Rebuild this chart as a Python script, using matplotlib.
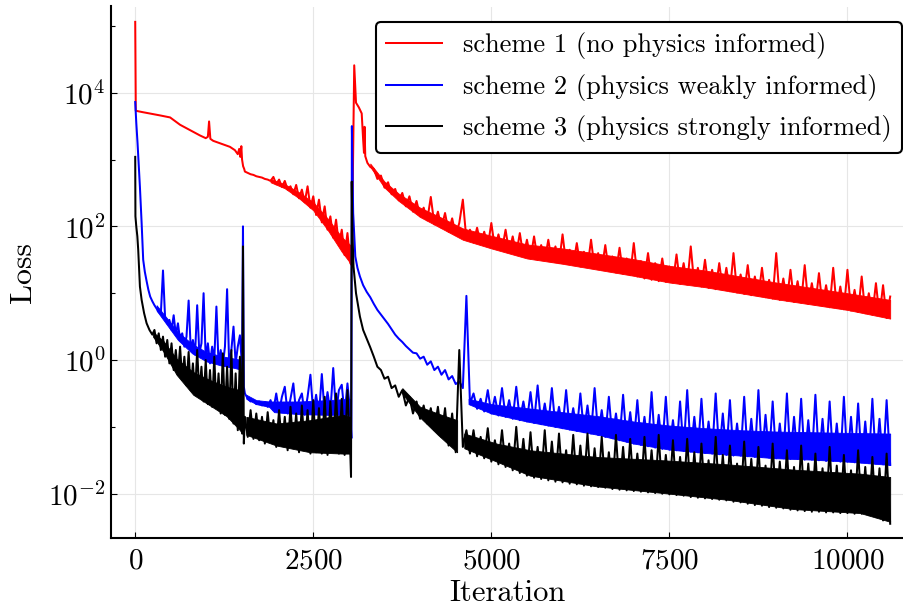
import numpy as np
import matplotlib
matplotlib.use("Agg")
import matplotlib.pyplot as plt
from matplotlib.ticker import FixedLocator, LogFormatterMathtext, NullFormatter

# ---------------- data (loss stored as log10 values) ----------------
labels = ["scheme 1 (no physics informed)",
          "scheme 2 (physics weakly informed)",
          "scheme 3 (physics strongly informed)"]
colors = ["red", "blue", "black"]

x_ticks = [0, 2500, 5000, 7500, 10000]
y_major = [1e-2, 1e0, 1e2, 1e4]
y_minor = [1e-1, 1e1, 1e3, 1e5]

# shared sampling iterations
grid_a_iter = [240, 270, 300, 330, 360, 390, 420, 450, 480, 510, 540, 570, 600, 630, 660,
               690, 720, 750, 780, 810, 840, 870, 900, 930, 960, 990, 1020, 1050, 1080,
               1110, 1140, 1170, 1200, 1230, 1260, 1290, 1320, 1350, 1380, 1410, 1440,
               1470, 1500]
grid_b_iter = [1540, 1580, 1620, 1660, 1700, 1740, 1780, 1820, 1860, 1900, 1940, 1980,
               2020, 2060, 2100, 2140, 2180, 2220, 2260, 2300, 2340, 2380, 2420, 2460,
               2500, 2540, 2580, 2620, 2660, 2700, 2740, 2780, 2820, 2860, 2900, 2940,
               2980, 3020]
grid_c_iter = [3300, 3350, 3400, 3450, 3500, 3550, 3600, 3650, 3700, 3750, 3800, 3850,
               3900, 3950, 4000, 4050, 4100, 4150, 4200, 4250, 4300, 4350, 4400, 4450,
               4500, 4550, 4600, 4650, 4700, 4750, 4800, 4850, 4900, 4950, 5000, 5050,
               5100, 5150, 5200, 5250, 5300, 5350, 5400, 5450, 5500, 5550, 5600, 5650,
               5700, 5750, 5800, 5850, 5900, 5950, 6000, 6050, 6100, 6150, 6200, 6250,
               6300, 6350, 6400, 6450, 6500, 6550, 6600, 6650, 6700, 6750, 6800, 6850,
               6900, 6950, 7000, 7050, 7100, 7150, 7200, 7250, 7300, 7350, 7400, 7450,
               7500, 7550, 7600, 7650, 7700, 7750, 7800, 7850, 7900, 7950, 8000, 8050,
               8100, 8150, 8200, 8250, 8300, 8350, 8400, 8450, 8500, 8550, 8600, 8650,
               8700, 8750, 8800, 8850, 8900, 8950, 9000, 9050, 9100, 9150, 9200, 9250,
               9300, 9350, 9400, 9450, 9500, 9550, 9600, 9650, 9700, 9750, 9800, 9850,
               9900, 9950, 10000, 10050, 10100, 10150, 10200, 10250, 10300, 10350,
               10400, 10450, 10500, 10550, 10600]

# ----- scheme 1 (red) -----
red_head_iter = [0, 8, 100, 200, 350, 490, 630, 770, 910, 990, 1020, 1037, 1055, 1095,
                 1200, 1330, 1400, 1440, 1460, 1475, 1490, 1500, 1515, 1530]
red_head_log = [5.06, 3.73, 3.71, 3.69, 3.66, 3.63, 3.52, 3.44, 3.36, 3.32, 3.34, 3.57,
                3.31, 3.28, 3.24, 3.19, 3.14, 3.08, 3.16, 3.04, 3.20, 3.00, 2.90, 2.86]
red_mid_log = [2.82, 2.80, 2.78, 2.77, 2.75, 2.74, 2.73, 2.71, 2.70, 2.68, 2.74, 2.63,
               2.70, 2.59, 2.68, 2.55, 2.60, 2.48, 2.62, 2.42, 2.55, 2.36, 2.60, 2.28,
               2.45, 2.17, 2.40, 2.06, 2.30, 1.95, 2.15, 1.83, 2.10, 1.72, 1.95, 1.57,
               1.90, 1.45]
red_restart_iter = [3040, 3075, 3100, 3140, 3180, 3200, 3212, 3220, 3230, 3260]
red_restart_log = [1.42, 4.41, 3.85, 3.78, 3.69, 3.30, 3.10, 3.49, 3.05, 2.95]
red_tail_log = [2.89, 2.86, 2.71, 2.76, 2.58, 2.66, 2.48, 2.56, 2.39, 2.50, 2.30, 2.45,
                2.22, 2.38, 2.15, 2.28, 2.09, 2.44, 2.03, 2.22, 1.98, 2.20, 1.92, 2.12,
                1.87, 2.05, 2.40, 1.80, 1.95, 1.76, 1.98, 1.73, 1.92, 1.70, 2.05, 1.67,
                1.88, 1.65, 1.95, 1.61, 1.85, 1.58, 1.90, 1.55, 1.80, 1.52, 1.85, 1.50,
                1.72, 1.49, 1.80, 1.47, 1.70, 1.45, 1.88, 1.44, 1.65, 1.42, 1.75, 1.40,
                1.62, 1.39, 1.80, 1.37, 1.60, 1.35, 1.72, 1.33, 1.55, 1.31, 1.68, 1.29,
                1.52, 1.27, 1.75, 1.25, 1.48, 1.22, 1.60, 1.20, 1.45, 1.18, 1.52, 1.17,
                1.40, 1.16, 1.58, 1.14, 1.45, 1.13, 1.70, 1.12, 1.38, 1.10, 1.50, 1.08,
                1.35, 1.06, 1.45, 1.05, 1.38, 1.03, 1.60, 1.01, 1.28, 0.99, 1.42, 0.97,
                1.25, 0.96, 1.38, 0.94, 1.20, 0.92, 1.60, 0.90, 1.22, 0.89, 1.35, 0.87,
                1.18, 0.86, 1.42, 0.84, 1.15, 0.83, 1.30, 0.81, 1.12, 0.79, 1.38, 0.78,
                1.10, 0.76, 1.35, 0.74, 1.05, 0.72, 1.25, 0.70, 1.00, 0.68, 1.15, 0.66,
                1.12, 0.63, 0.95]
# dense part of the noise (lower / upper edge of the solid band)
red_band_iter = [[1900, 2100, 2300, 2500, 2700, 2900, 3020],
                 [3300, 3500, 3700, 4000, 4300, 4600, 5000, 5500, 6000, 6500, 7000,
                  7500, 8000, 8500, 9000, 9500, 10000, 10600]]
red_band_lo = [[2.66, 2.57, 2.42, 2.24, 1.95, 1.62, 1.45],
               [2.89, 2.58, 2.38, 2.14, 1.97, 1.80, 1.67, 1.52, 1.44, 1.35, 1.26,
                1.16, 1.09, 1.00, 0.91, 0.83, 0.75, 0.62]]
red_band_hi = [[2.71, 2.63, 2.51, 2.36, 2.12, 1.84, 1.72],
               [2.94, 2.67, 2.49, 2.28, 2.13, 1.97, 1.86, 1.73, 1.67, 1.59, 1.51,
                1.41, 1.34, 1.25, 1.16, 1.08, 1.00, 0.90]]

# ----- scheme 2 (blue) -----
blue_head_iter = [0, 15, 33, 50, 66, 90, 112, 135, 160, 185, 210]
blue_head_log = [3.86, 3.55, 3.24, 2.90, 2.59, 2.05, 1.50, 1.32, 1.18, 1.05, 0.95]
blue_early_log = [0.88, 0.82, 0.77, 0.72, 0.70, 1.34, 0.62, 0.55, 0.60, 0.45, 0.67, 0.38,
                  0.55, 0.30, 0.40, 0.20, 0.35, 0.89, 0.15, 0.30, 0.08, 0.82, 0.10, 0.25,
                  1.00, 0.02, 0.25, -0.05, 0.20, 0.00, 0.80, -0.05, 0.15, -0.08, 0.20,
                  1.06, -0.10, 0.15, 0.50, -0.05, 0.20, 0.37, -0.10]
blue_spike_iter = [1513, 1525]
blue_spike_log = [2.00, -0.40]
blue_mid_log = [-0.50, -0.58, -0.62, -0.60, -0.66, -0.62, -0.68, -0.63, -0.70, -0.60,
                -0.75, -0.50, -0.78, -0.55, -0.40, -0.80, -0.58, -0.35, -0.80, -0.60,
                -0.50, -0.82, -0.55, -0.22, -0.80, -0.52, -0.82, -0.21, -0.80, -0.48,
                -0.78, -0.12, -0.80, -0.45, -0.37, -0.82, -0.35, -0.80]
blue_restart_iter = [3035, 3042, 3060, 3090, 3120, 3155, 3200, 3250]
blue_restart_log = [-1.17, 3.50, 2.20, 1.55, 1.38, 1.25, 1.12, 1.02]
blue_tail_log = [0.94, 0.84, 0.75, 0.68, 0.61, 0.54, 0.46, 0.38, 0.32, 0.27, 0.21, 0.16,
                 0.11, 0.10, 0.02, 0.05, -0.07, -0.02, -0.15, -0.10, -0.22, -0.15, -0.29,
                 -0.24, -0.36, -0.32, -0.42, 0.96, -0.65, -0.50, -0.73, -0.58, -0.77,
                 -0.45, -0.80, -0.55, -0.83, -0.42, -0.85, -0.60, -0.88, -0.40, -0.90,
                 -0.62, -0.92, -0.48, -0.94, -0.38, -0.96, -0.65, -0.98, -0.42, -1.00,
                 -0.70, -1.02, -0.45, -1.04, -0.72, -1.06, -0.50, -1.08, -0.68, -1.10,
                 -0.42, -1.12, -0.75, -1.15, -0.55, -1.17, -0.80, -1.20, -0.52, -1.22,
                 -0.78, -1.25, -0.60, -1.27, -0.85, -1.29, -0.48, -1.31, -0.82, -1.33,
                 -0.55, -1.34, -0.90, -1.35, -0.62, -1.36, -0.45, -1.37, -0.85, -1.38,
                 -0.58, -1.39, -0.92, -1.40, -0.50, -1.41, -0.80, -1.42, -0.60, -1.43,
                 -0.95, -1.43, -0.55, -1.44, -0.88, -1.45, -0.45, -1.45, -0.82, -1.46,
                 -0.62, -1.47, -0.95, -1.47, -0.50, -1.48, -0.85, -1.48, -0.58, -1.49,
                 -0.90, -1.49, -0.52, -1.50, -0.88, -1.51, -0.62, -1.51, -0.95, -1.52,
                 -0.55, -1.52, -0.85, -1.53, -0.65, -1.53, -0.92, -1.54, -0.58, -1.55,
                 -0.88, -1.56, -0.60, -1.57]
blue_band_iter = [[300, 450, 600, 800, 1000, 1200, 1400, 1500],
                  [1560, 1700, 1880, 1950, 2300, 2700, 3020],
                  [4680, 5000, 5500, 6000, 6500, 7000, 7500, 8000, 8500, 9000, 9500,
                   10000, 10600]]
blue_band_lo = [[0.74, 0.52, 0.30, 0.10, -0.02, -0.08, -0.12, -0.15],
                [-0.58, -0.66, -0.70, -0.78, -0.81, -0.82, -0.82],
                [-0.66, -0.80, -0.92, -1.02, -1.12, -1.25, -1.34, -1.39, -1.43, -1.47,
                 -1.49, -1.52, -1.57]]
blue_band_hi = [[0.82, 0.62, 0.42, 0.24, 0.12, 0.06, 0.02, 0.00],
                [-0.52, -0.60, -0.62, -0.62, -0.62, -0.60, -0.58],
                [-0.58, -0.66, -0.72, -0.78, -0.84, -0.92, -0.98, -1.02, -1.05, -1.07,
                 -1.08, -1.09, -1.10]]

# ----- scheme 3 (black) -----
black_head_iter = [0, 3, 15, 30, 42, 66, 90, 125, 160, 200]
black_head_log = [3.04, 2.15, 2.00, 1.85, 1.65, 1.10, 0.90, 0.70, 0.55, 0.45]
black_early_log = [0.38, 0.45, 0.25, 0.40, 0.15, 0.35, 0.05, 0.30, -0.05, 0.25, -0.15,
                   0.15, -0.22, 0.20, -0.30, 0.05, -0.38, 0.12, -0.45, -0.05, -0.52,
                   0.15, -0.50, -0.10, -0.62, 0.00, -0.66, -0.15, -0.70, 0.05, -0.72,
                   -0.20, -0.80, 0.10, -0.82, -0.10, -0.88, 0.15, -0.95, -0.20, -1.05,
                   0.05, -1.10]
black_spike_iter = [1513, 1525]
black_spike_log = [1.70, -1.25]
black_mid_log = [-0.85, -1.15, -0.75, -1.18, -0.80, -1.20, -0.85, -1.25, -0.78, -1.22,
                 -0.90, -1.30, -0.75, -1.28, -0.85, -1.35, -0.70, -1.32, -0.80, -1.38,
                 -0.68, -1.35, -0.75, -1.40, -0.60, -1.38, -0.72, -1.40, -0.55, -1.42,
                 -0.62, -1.38, -0.50, -1.40, -0.58, -1.42, -0.45, -1.40]
black_restart_iter = [3030, 3040, 3050, 3065, 3100, 3155, 3200, 3250]
black_restart_log = [-1.75, 2.67, 1.90, 1.40, 1.00, 0.65, 0.45, 0.32]
black_tail_log = [0.19, 0.05, -0.10, -0.15, -0.28, -0.25, -0.42, -0.38, -0.55, -0.45,
                  -0.68, -0.55, -0.80, -0.62, -0.88, -0.68, -0.95, -0.72, -1.05, -0.70,
                  -1.15, -0.72, -1.28, -0.80, -1.38, 0.15, -1.30, -1.05, -1.40, -1.05,
                  -1.44, -1.15, -1.47, -1.02, -1.52, -1.20, -1.56, -1.05, -1.60, -1.25,
                  -1.65, -1.00, -1.69, -1.18, -1.73, -1.08, -1.76, -1.30, -1.78, -1.05,
                  -1.80, -1.22, -1.82, -1.10, -1.83, -1.35, -1.85, -1.12, -1.86, -1.28,
                  -1.88, -1.10, -1.89, -1.32, -1.90, -1.15, -1.91, -1.38, -1.93, -1.12,
                  -1.94, -1.30, -1.95, -1.18, -1.96, -1.40, -1.97, -1.15, -1.98, -1.35,
                  -1.99, -1.12, -2.00, -1.42, -2.01, -1.20, -2.02, -1.45, -2.03, -1.18,
                  -2.05, -1.38, -2.06, -1.25, -2.07, -1.50, -2.08, -1.15, -2.09, -1.42,
                  -2.10, -1.28, -2.12, -1.55, -2.13, -1.22, -2.15, -1.48, -2.17, -1.30,
                  -2.18, -1.58, -2.20, -1.25, -2.21, -1.52, -2.22, -1.35, -2.24, -1.60,
                  -2.25, -1.28, -2.26, -1.55, -2.27, -1.40, -2.27, -1.62, -2.28, -1.30,
                  -2.28, -1.58, -2.29, -1.42, -2.29, -1.65, -2.30, -1.35, -2.30, -1.60,
                  -2.32, -1.45, -2.35, -1.62, -2.40, -1.40, -2.45]
black_band_iter = [[250, 400, 580, 815, 1050, 1283, 1470, 1500],
                   [1560, 1985, 2455, 2920, 3020],
                   [3750, 4000, 4250, 4520],
                   [4620, 5075, 5545, 6480, 7415, 8310, 9245, 10180, 10600]]
black_band_lo = [[0.35, 0.12, -0.22, -0.52, -0.68, -0.84, -1.05, -1.10],
                 [-1.12, -1.28, -1.38, -1.40, -1.40],
                 [-0.50, -0.86, -1.12, -1.38],
                 [-1.32, -1.52, -1.73, -1.89, -1.99, -2.09, -2.23, -2.29, -2.42]]
black_band_hi = [[0.42, 0.28, 0.02, -0.18, -0.30, -0.40, -0.45, -0.48],
                 [-0.85, -0.95, -0.90, -0.82, -0.85],
                 [-0.42, -0.70, -0.80, -0.90],
                 [-1.10, -1.25, -1.35, -1.45, -1.50, -1.56, -1.64, -1.70, -1.75]]

# ---------------- assemble series ----------------
red_iter = red_head_iter + grid_b_iter + red_restart_iter + grid_c_iter
red_log = red_head_log + red_mid_log + red_restart_log + red_tail_log
blue_iter = (blue_head_iter + grid_a_iter + blue_spike_iter + grid_b_iter
             + blue_restart_iter + grid_c_iter)
blue_log = (blue_head_log + blue_early_log + blue_spike_log + blue_mid_log
            + blue_restart_log + blue_tail_log)
black_iter = (black_head_iter + grid_a_iter + black_spike_iter + grid_b_iter
              + black_restart_iter + grid_c_iter)
black_log = (black_head_log + black_early_log + black_spike_log + black_mid_log
             + black_restart_log + black_tail_log)

series = [(red_iter, red_log, red_band_iter, red_band_lo, red_band_hi),
          (blue_iter, blue_log, blue_band_iter, blue_band_lo, blue_band_hi),
          (black_iter, black_log, black_band_iter, black_band_lo, black_band_hi)]

# ---------------- style ----------------
plt.rcParams["font.family"] = ["cmr10", "DejaVu Sans"]
plt.rcParams["mathtext.fontset"] = "cm"
plt.rcParams["axes.formatter.use_mathtext"] = True

W, H = 904, 607
fig = plt.figure(figsize=(W / 100, H / 100), dpi=100)
ax = fig.add_axes([111 / W, (H - 538) / H, 792 / W, 531.5 / H])

for k, ((it, lg, b_it, b_lo, b_hi), c, lab) in enumerate(zip(series, colors, labels)):
    z = 2 + k
    for bi, blo, bhi in zip(b_it, b_lo, b_hi):
        ax.fill_between(bi, 10.0 ** np.array(blo), 10.0 ** np.array(bhi),
                        color=c, lw=0.6, zorder=z)
    ax.plot(it, 10.0 ** np.array(lg), color=c, lw=1.45, label=lab, zorder=z)

ax.set_yscale("log")
ax.set_xlim(-340, 10780)
ax.set_ylim(10 ** -2.663, 10 ** 5.29)

ax.xaxis.set_major_locator(FixedLocator(x_ticks))
ax.yaxis.set_major_locator(FixedLocator(y_major))
ax.yaxis.set_minor_locator(FixedLocator(y_minor))
ax.yaxis.set_major_formatter(LogFormatterMathtext())
ax.yaxis.set_minor_formatter(NullFormatter())

ax.grid(True, which="major", color="#e6e6e6", lw=0.8)
ax.set_axisbelow(True)

for s in ["top", "right"]:
    ax.spines[s].set_visible(False)
for s in ["left", "bottom"]:
    ax.spines[s].set_linewidth(1.5)

ax.tick_params(axis="both", which="major", direction="in", length=4.5, width=0.8,
               labelsize=21, pad=4)
ax.tick_params(axis="x", which="major", pad=7)
ax.tick_params(axis="y", which="minor", direction="in", length=3, width=0.8)
ax.tick_params(axis="x", which="minor", length=0)

ax.set_xlabel("Iteration", fontsize=22, labelpad=4)
ax.set_ylabel("Loss", fontsize=23, labelpad=8)

leg = ax.legend(loc="upper right", bbox_to_anchor=(0.999, 0.971), fontsize=19,
                frameon=True, fancybox=True, edgecolor="black", framealpha=1,
                handlelength=2.1, handletextpad=0.8, borderpad=0.4,
                labelspacing=0.55, borderaxespad=0)
leg.get_frame().set_linewidth(1.5)
leg.set_zorder(10)
for line in leg.get_lines():
    line.set_linewidth(1.45)

fig.savefig("out.png", dpi=100)
